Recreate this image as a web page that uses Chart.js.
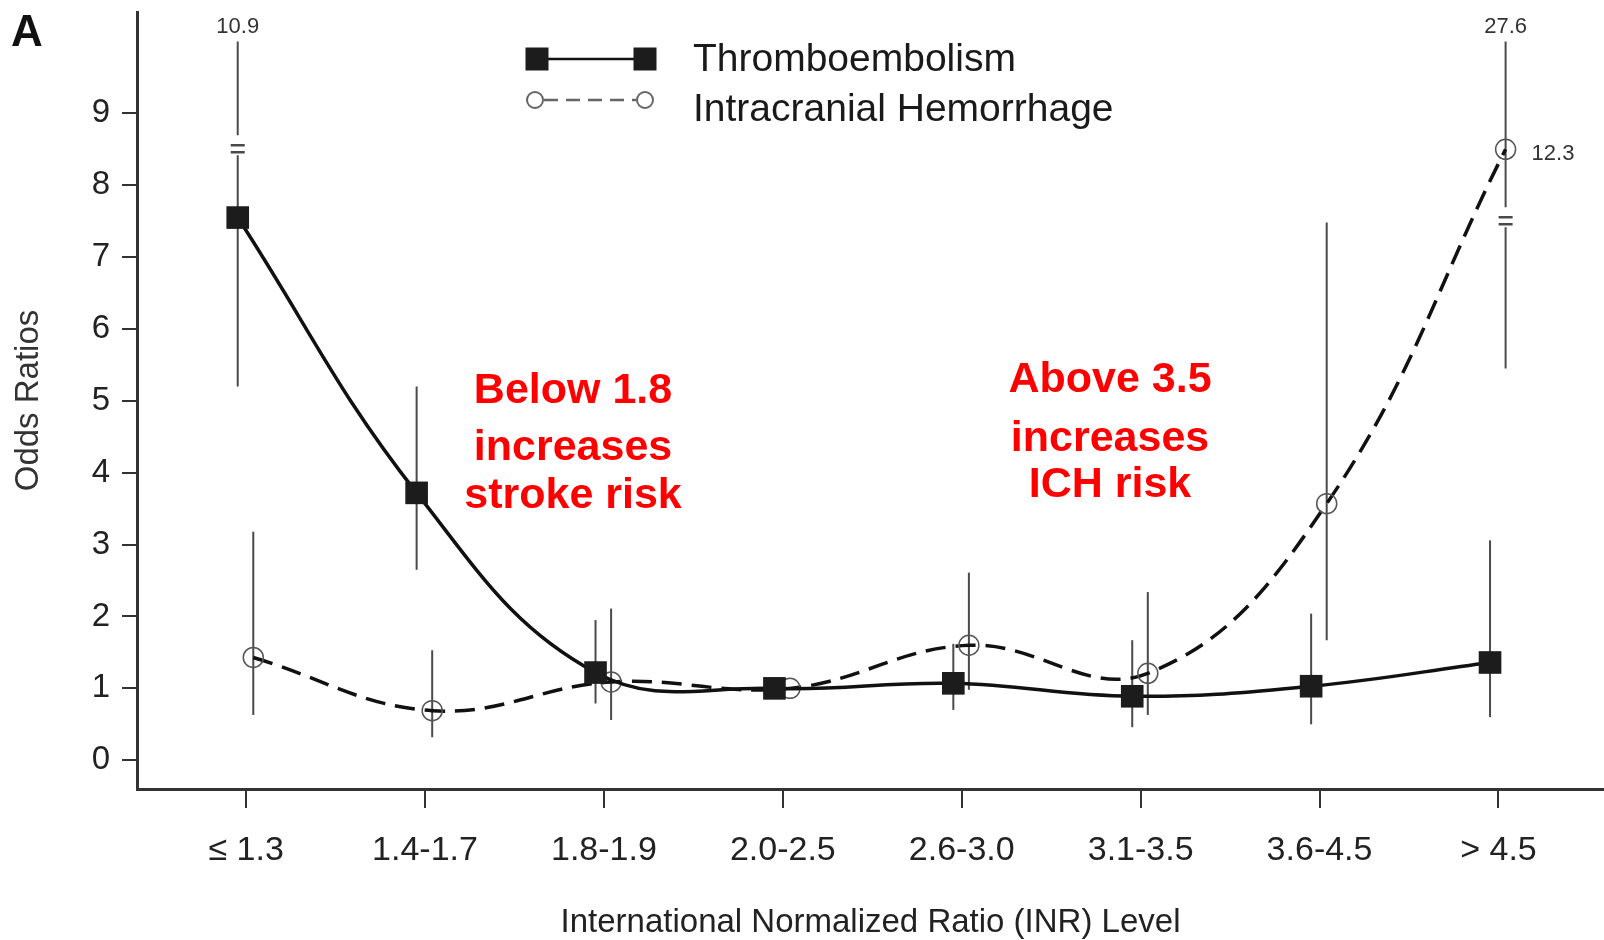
<!DOCTYPE html>
<html>
<head>
<meta charset="utf-8">
<script src="https://cdn.jsdelivr.net/npm/chart.js@4.4.1/dist/chart.umd.min.js"></script>
<style>
  html, body { margin: 0; padding: 0; background: #fff; overflow: hidden; }
  #wrap { width: 1604px; height: 940px; }
  canvas { display: block; }
</style>
</head>
<body>
<div id="wrap"><canvas id="myChart" width="1604" height="940"></canvas></div>
<script>
  // INR categories and odds ratios
  const categories = ['≤ 1.3', '1.4-1.7', '1.8-1.9', '2.0-2.5', '2.6-3.0', '3.1-3.5', '3.6-4.5', '> 4.5'];
  const yTicks = [0, 1, 2, 3, 4, 5, 6, 7, 8, 9];

  const thrombo = [7.55, 3.72, 1.22, 1.0, 1.07, 0.89, 1.03, 1.36];
  const thromboLow = [5.2, 2.65, 0.79, null, 0.70, 0.46, 0.50, 0.60];
  const thromboHigh = [10, 5.2, 1.95, null, 1.62, 1.67, 2.04, 3.06];
  const thromboBreak = [8.5, null, null, null, null, null, null, null];
  const thromboHighLabel = ['10.9', null, null, null, null, null, null, null];

  const ich = [1.43, 0.69, 1.09, 1.0, 1.6, 1.21, 3.57, 8.5];
  const ichLow = [0.63, 0.32, 0.56, null, 0.98, 0.63, 1.67, 5.45];
  const ichHigh = [3.18, 1.53, 2.11, null, 2.61, 2.34, 7.48, 10];
  const ichBreak = [null, null, null, null, null, null, null, 7.5];
  const ichHighLabel = [null, null, null, null, null, null, null, '27.6'];
  const ichValueLabel = [null, null, null, null, null, null, null, '12.3'];

  // small sideways shift so the two series don't sit on top of each other
  const thromboShift = -0.047;
  const ichShift = 0.04;

  const FONT = "'Liberation Sans', Arial, sans-serif";

  function drawErrorBar(ctx, chart, xv, lo, hi, brk, label) {
    if (lo == null || hi == null) return;
    const xs = chart.scales.x, ys = chart.scales.y;
    const x = xs.getPixelForValue(xv);
    const yLo = ys.getPixelForValue(lo), yHi = ys.getPixelForValue(hi);
    ctx.beginPath();
    if (brk != null) {
      const yb = ys.getPixelForValue(brk);
      ctx.moveTo(x, yLo); ctx.lineTo(x, yb + 6);
      ctx.moveTo(x, yb - 14); ctx.lineTo(x, yHi);
      ctx.stroke();
      ctx.beginPath();
      ctx.lineWidth = 2.5;
      ctx.moveTo(x - 7, yb - 4); ctx.lineTo(x + 7, yb - 4);
      ctx.moveTo(x - 7, yb + 3); ctx.lineTo(x + 7, yb + 3);
      ctx.stroke();
      ctx.lineWidth = 2;
    } else {
      ctx.moveTo(x, yLo); ctx.lineTo(x, yHi);
      ctx.stroke();
    }
    if (label) {
      ctx.save();
      ctx.fillStyle = '#333';
      ctx.font = '22px ' + FONT;
      ctx.textAlign = 'center';
      ctx.textBaseline = 'bottom';
      ctx.fillText(label, x, yHi - 4);
      ctx.restore();
    }
  }

  const extras = {
    id: 'extras',
    beforeDatasetsDraw(chart) {
      const ctx = chart.ctx;
      ctx.save();
      ctx.strokeStyle = '#4a4a4a';
      ctx.lineWidth = 2;
      categories.forEach((c, i) => {
        drawErrorBar(ctx, chart, i + thromboShift, thromboLow[i], thromboHigh[i], thromboBreak[i], thromboHighLabel[i]);
        drawErrorBar(ctx, chart, i + ichShift, ichLow[i], ichHigh[i], ichBreak[i], ichHighLabel[i]);
      });
      ctx.restore();
    },
    afterDraw(chart) {
      const ctx = chart.ctx;
      const xs = chart.scales.x, ys = chart.scales.y;
      ctx.save();

      // value labels next to broken points
      ctx.fillStyle = '#333';
      ctx.font = '22px ' + FONT;
      ctx.textAlign = 'left';
      ctx.textBaseline = 'middle';
      ichValueLabel.forEach((t, i) => {
        if (!t) return;
        ctx.fillText(t, xs.getPixelForValue(i + ichShift) + 26, ys.getPixelForValue(ich[i]) + 5);
      });

      // panel letter
      ctx.fillStyle = '#111';
      ctx.font = 'bold 44px ' + FONT;
      ctx.textBaseline = 'middle';
      ctx.fillText('A', 11, 34);

      // legend
      ctx.strokeStyle = '#111';
      ctx.lineWidth = 2.5;
      ctx.beginPath(); ctx.moveTo(537, 59); ctx.lineTo(645, 59); ctx.stroke();
      ctx.fillStyle = '#1c1c1c';
      ctx.fillRect(537 - 11.5, 59 - 11.5, 23, 23);
      ctx.fillRect(645 - 11.5, 59 - 11.5, 23, 23);
      ctx.strokeStyle = '#666';
      ctx.lineWidth = 2.5;
      ctx.setLineDash([14, 8]);
      ctx.beginPath(); ctx.moveTo(544, 100); ctx.lineTo(636, 100); ctx.stroke();
      ctx.setLineDash([]);
      ctx.lineWidth = 2;
      ctx.fillStyle = '#fff';
      [535, 645].forEach(cx => {
        ctx.beginPath(); ctx.arc(cx, 100, 8, 0, Math.PI * 2); ctx.fill(); ctx.stroke();
      });
      ctx.fillStyle = '#1a1a1a';
      ctx.font = '39px ' + FONT;
      ctx.textAlign = 'left';
      ctx.fillText('Thromboembolism', 693, 60);
      ctx.fillText('Intracranial Hemorrhage', 693, 110);

      // red annotations
      ctx.fillStyle = '#ff0000';
      ctx.font = 'bold 43px ' + FONT;
      ctx.textAlign = 'center';
      ['Below 1.8', 'increases', 'stroke risk'].forEach((t, k) => ctx.fillText(t, 573, [391, 448, 496][k]));
      ['Above 3.5', 'increases', 'ICH risk'].forEach((t, k) => ctx.fillText(t, 1110, [380, 439, 485][k]));

      ctx.restore();
    }
  };

  const data = {
    datasets: [{
      label: 'Thromboembolism',
      data: thrombo.map((v, i) => ({ x: i + thromboShift, y: v })),
      borderColor: '#111',
      borderWidth: 3.5,
      tension: 0.4,
      pointStyle: 'rect',
      pointRadius: 16,
      pointBackgroundColor: '#1c1c1c',
      pointBorderWidth: 0,
      fill: false
    }, {
      label: 'Intracranial Hemorrhage',
      data: ich.map((v, i) => ({ x: i + ichShift, y: v })),
      borderColor: '#111',
      borderWidth: 3.5,
      borderDash: [20, 10],
      tension: 0.4,
      pointStyle: 'circle',
      pointRadius: 10,
      pointBackgroundColor: 'rgba(0,0,0,0)',
      pointBorderColor: '#555',
      pointBorderWidth: 1.5,
      fill: false
    }]
  };

  const config = {
    type: 'line',
    data: data,
    plugins: [extras],
    options: {
      responsive: false,
      animation: false,
      layout: { autoPadding: false, padding: { top: 12, right: 0, left: 0, bottom: 0 } },
      plugins: {
        legend: { display: false },
        tooltip: { enabled: false }
      },
      scales: {
        x: {
          type: 'linear',
          min: -0.61,
          max: 7.59,
          afterBuildTicks: (s) => { s.ticks = categories.map((c, i) => ({ value: i })); },
          afterFit: (s) => {
            s.height = 151;
            s.paddingLeft = 0; s.paddingRight = 0;
          },
          ticks: {
            callback: (v) => categories[v],
            color: '#222',
            font: { family: FONT, size: 34 },
            padding: 22,
            maxRotation: 0,
            autoSkip: false
          },
          grid: {
            drawOnChartArea: false,
            drawTicks: true,
            tickLength: 19,
            color: '#333',
            lineWidth: 2
          },
          border: { display: true, color: '#333', width: 3 },
          title: {
            display: true,
            text: 'International Normalized Ratio (INR) Level',
            color: '#222',
            font: { family: FONT, size: 33, lineHeight: 1 },
            padding: { top: 0, bottom: 1 }
          }
        },
        y: {
          min: -0.4,
          max: 10.41,
          afterBuildTicks: (s) => { s.ticks = yTicks.map(v => ({ value: v })); },
          afterFit: (s) => {
            s.width = 137;
            s.paddingTop = 0; s.paddingBottom = 0;
          },
          ticks: {
            color: '#222',
            font: { family: FONT, size: 33 },
            padding: 12
          },
          grid: {
            drawOnChartArea: false,
            drawTicks: true,
            tickLength: 15,
            color: '#333',
            lineWidth: 2
          },
          border: { display: true, color: '#333', width: 3 },
          title: {
            display: true,
            text: 'Odds Ratios',
            color: '#333',
            font: { family: FONT, size: 33, lineHeight: 1 },
            padding: { top: 12, bottom: 0 }
          }
        }
      }
    }
  };

  const myChart = new Chart(document.getElementById('myChart'), config);
</script>
</body>
</html>
